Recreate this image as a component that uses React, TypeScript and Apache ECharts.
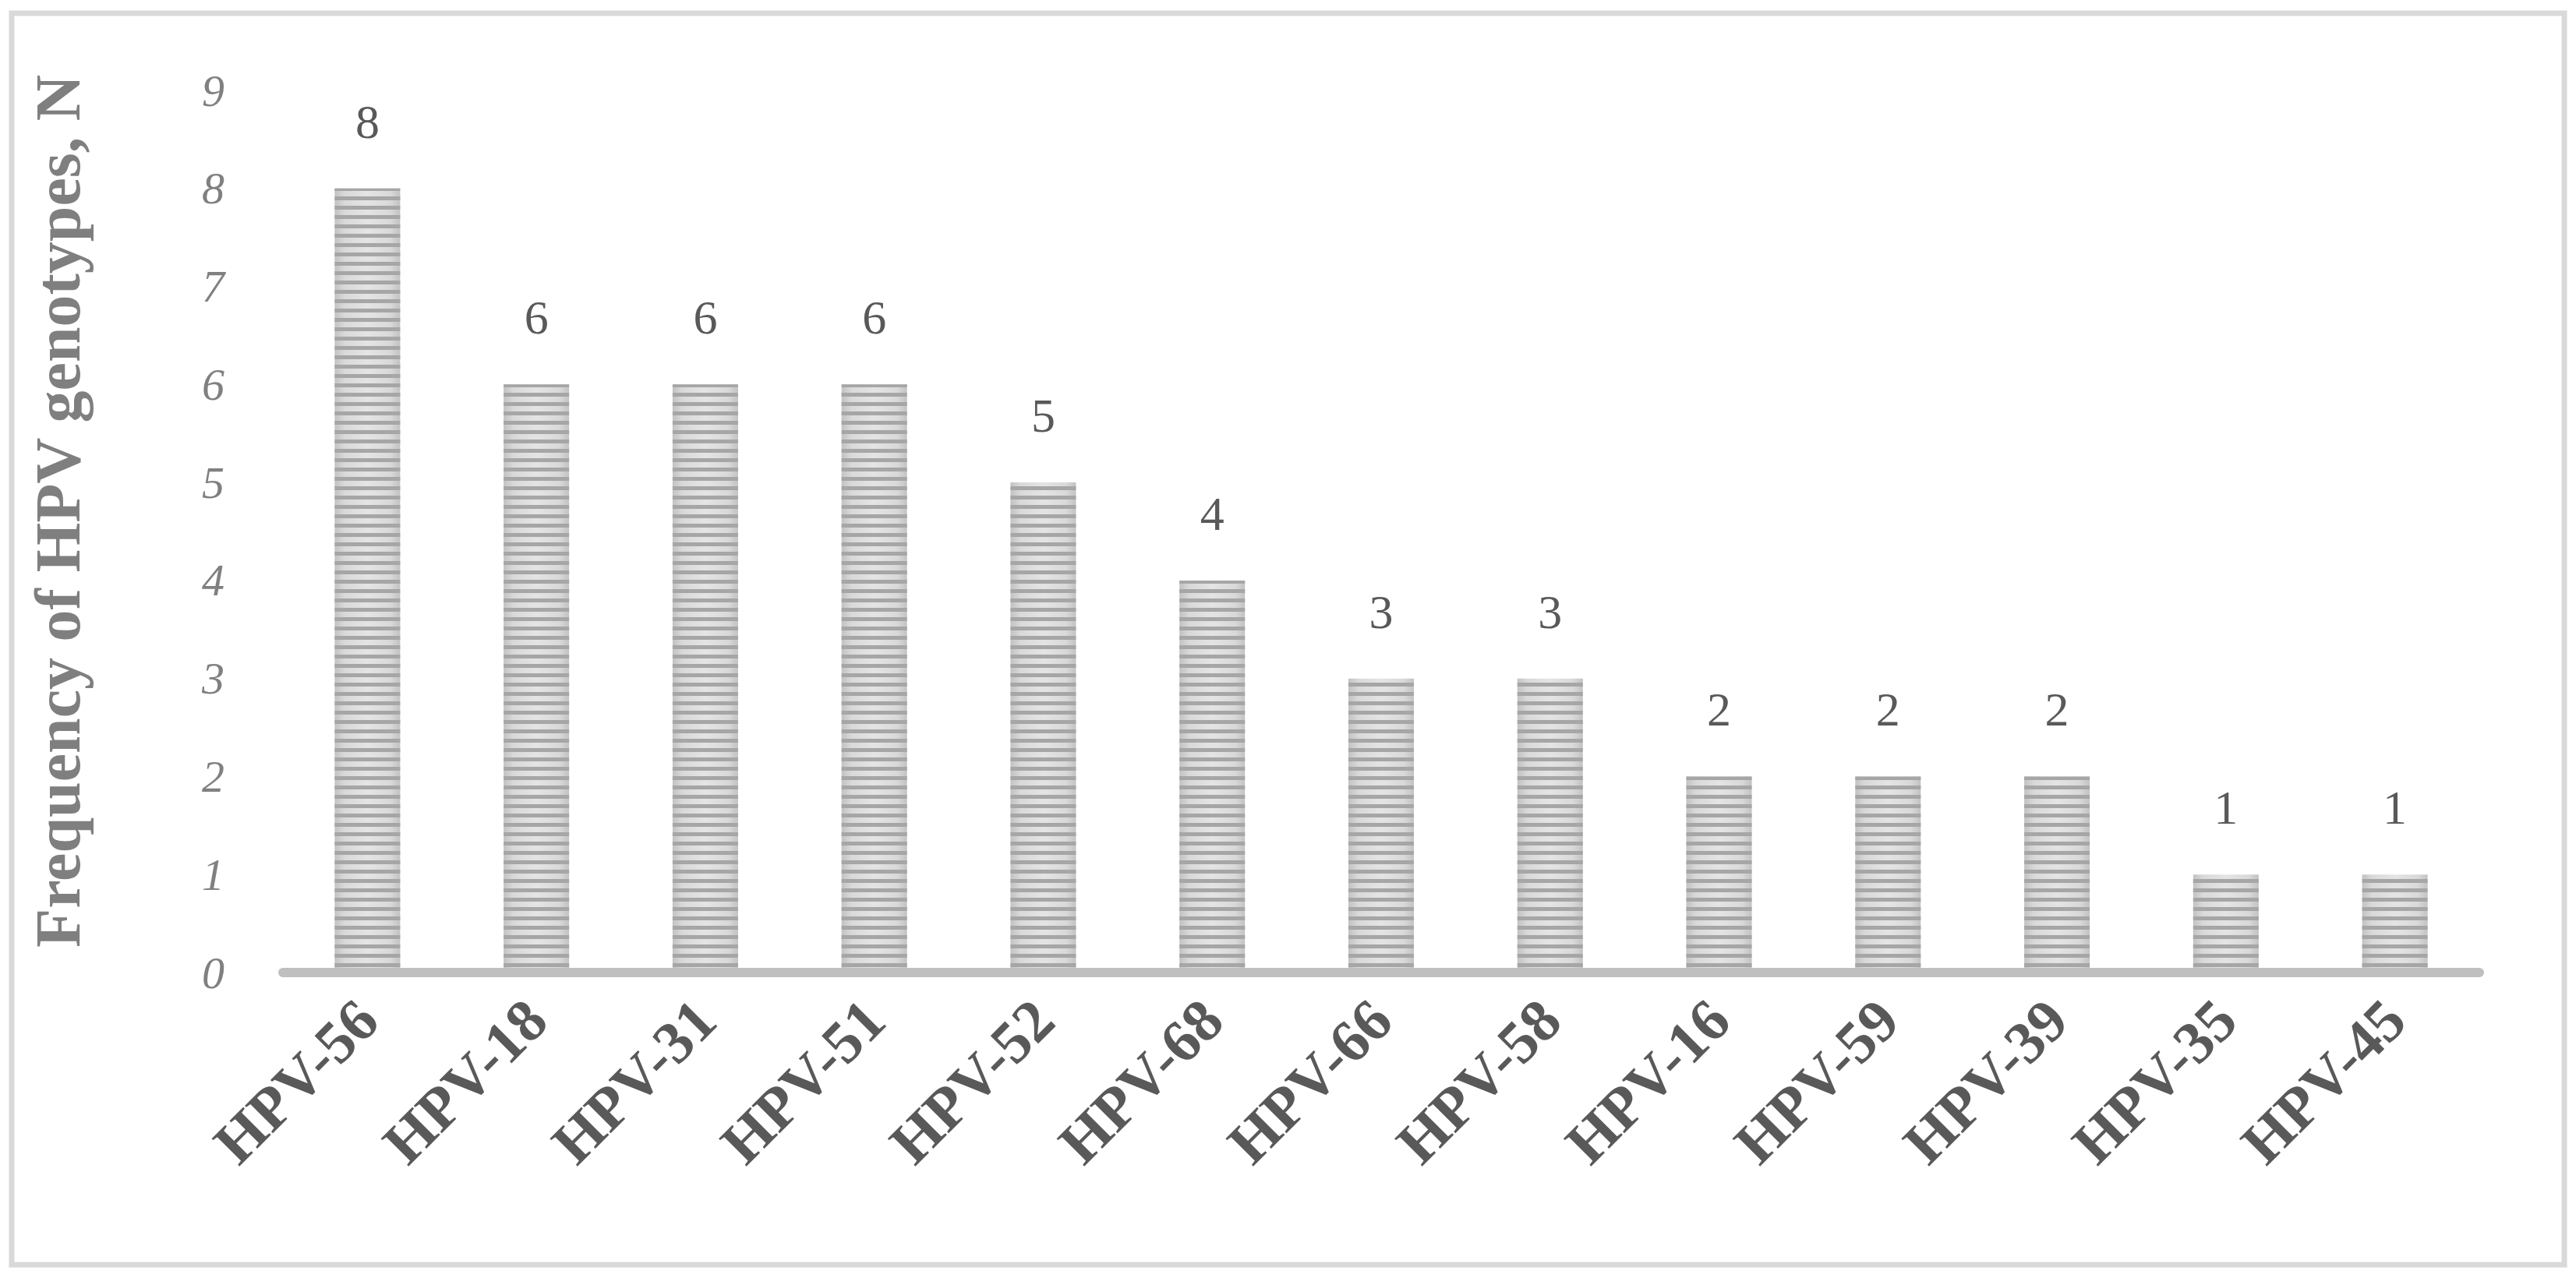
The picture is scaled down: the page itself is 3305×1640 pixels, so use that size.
import React, { useEffect, useRef } from "react";
import * as echarts from "echarts";

const categories = [
  "HPV-56", "HPV-18", "HPV-31", "HPV-51", "HPV-52", "HPV-68", "HPV-66",
  "HPV-58", "HPV-16", "HPV-59", "HPV-39", "HPV-35", "HPV-45",
];
const frequencies = [8, 6, 6, 6, 5, 4, 3, 3, 2, 2, 2, 1, 1];
const yMin = 0;
const yMax = 9;
const yStep = 1;
const yAxisTitle = "Frequency of HPV genotypes, N";

const SERIF = "'Liberation Serif', 'Times New Roman', serif";

export default function App() {
  const ref = useRef<HTMLDivElement>(null);
  useEffect(() => {
    document.body.style.margin = "0";
    const chart = echarts.init(ref.current!, null, { renderer: "svg" });
    chart.setOption({
      animation: false,
      backgroundColor: "#ffffff",
      graphic: [
        {
          type: "rect",
          shape: { x: 15, y: 17, width: 3275, height: 1606 },
          style: { fill: "none", stroke: "#d9d9d9", lineWidth: 7 },
          z: -1,
        },
        {
          type: "text",
          x: 74,
          y: 656,
          rotation: Math.PI / 2,
          style: {
            text: yAxisTitle,
            align: "center",
            verticalAlign: "middle",
            fill: "#7f7f7f",
            font: `bold 82px ${SERIF}`,
          },
        },
      ],
      grid: { left: 363, right: 124, top: 116, bottom: 392 },
      xAxis: {
        type: "category",
        data: categories,
        z: 5,
        axisLine: { lineStyle: { color: "#bfbfbf", width: 12 } },
        axisTick: { show: false },
        axisLabel: {
          interval: 0,
          rotate: 45,
          margin: 48,
          color: "#595959",
          fontFamily: SERIF,
          fontWeight: "bold",
          fontSize: 77,
        },
      },
      yAxis: {
        type: "value",
        min: yMin,
        max: yMax,
        interval: yStep,
        splitLine: { show: false },
        axisLine: { show: false },
        axisTick: { show: false },
        axisLabel: {
          margin: 75,
          color: "#808080",
          fontFamily: SERIF,
          fontStyle: "italic",
          fontSize: 58,
        },
      },
      series: [
        {
          type: "bar",
          data: frequencies,
          barWidth: 84,
          itemStyle: {
            color: {
              type: "linear",
              x: 0, y: 0, x2: 1, y2: 0,
              colorStops: [
                { offset: 0, color: "#c2c2c2" },
                { offset: 0.15, color: "#d9d9d9" },
                { offset: 0.5, color: "#e4e4e4" },
                { offset: 0.85, color: "#d9d9d9" },
                { offset: 1, color: "#c2c2c2" },
              ],
            },
            decal: {
              symbol: "rect",
              symbolSize: 1,
              symbolKeepAspect: false,
              color: "#a6a6a6",
              dashArrayX: [10, 0],
              dashArrayY: [5, 7],
              rotation: 0,
            },
          },
          label: {
            show: true,
            position: "top",
            distance: 55,
            color: "#595959",
            fontFamily: SERIF,
            fontSize: 62,
          },
        },
      ],
    });
    return () => chart.dispose();
  }, []);
  return (
    <div
      ref={ref}
      style={{ position: "absolute", left: 0, top: 0, width: 3305, height: 1640, background: "#fff" }}
    />
  );
}
